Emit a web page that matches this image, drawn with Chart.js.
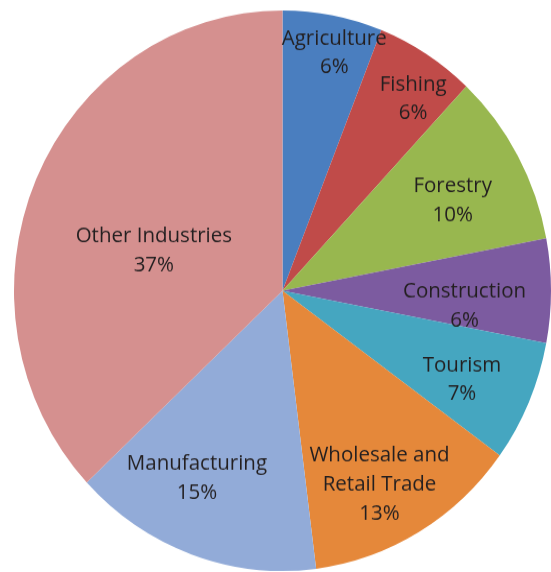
<!DOCTYPE html>
<html>
<head>
<meta charset="utf-8">
<title>Industries</title>
<script src="https://cdn.jsdelivr.net/npm/chart.js@4.4.1/dist/chart.umd.min.js"></script>
<style>
  html, body { margin: 0; padding: 0; background: #fff; }
  #chart { display: block; }
</style>
</head>
<body>
<canvas id="chart" width="551" height="548" style="width:551px;height:572px"></canvas>
<script>
// sectors, clockwise from 12 o'clock
const sectors = ['Agriculture', 'Fishing', 'Forestry', 'Construction', 'Tourism', 'Wholesale and Retail Trade', 'Manufacturing', 'Other Industries'];
const shares = [6, 6, 10, 6, 7, 13, 15, 37];
const colors = ['#4a7ebf', '#c04b49', '#98b74f', '#7c5ba0', '#45a6c0', '#e5883a', '#92abd8', '#d5908f'];

// label text lines per slice (Excel style wrapping)
const labelLines = [
  ['Agriculture'], ['Fishing'], ['Forestry'], ['Construction'], ['Tourism'],
  ['Wholesale and', 'Retail Trade'], ['Manufacturing'], ['Other Industries']
];
// where the label sits: fraction of radius, and a small angle nudge in degrees
const labelRadius = [0.87, 0.84, 0.71, 0.68, 0.74, 0.78, 0.74, 0.50];
const labelNudge = [2, 3, 2, 4.5, 2, 3, 5.7, -6.8];

// canvas is drawn a bit squashed then stretched by css to 572px
const pieLabels = {
  id: 'pieLabels',
  afterDatasetsDraw(chart) {
    const ctx = chart.ctx;
    const meta = chart.getDatasetMeta(0);
    ctx.save();
    ctx.font = '20.5px "Open Sans", sans-serif';
    ctx.fillStyle = '#231f20';
    ctx.textAlign = 'center';
    ctx.textBaseline = 'middle';
    meta.data.forEach((arc, i) => {
      const mid = (arc.startAngle + arc.endAngle) / 2 + labelNudge[i] * Math.PI / 180;
      const r = arc.outerRadius * labelRadius[i];
      const x = arc.x + Math.cos(mid) * r;
      const y = arc.y + Math.sin(mid) * r;
      const lines = labelLines[i].concat([shares[i] + '%']);
      const lh = 27.8;
      const top = y - (lines.length - 1) * lh / 2;
      lines.forEach((t, k) => ctx.fillText(t, x, top + k * lh));
    });
    ctx.restore();
  }
};

const canvas = document.getElementById('chart');
new Chart(canvas, {
  type: 'pie',
  data: {
    labels: sectors,
    datasets: [{
      data: shares,
      backgroundColor: colors,
      borderWidth: 0
    }]
  },
  options: {
    responsive: false,
    animation: false,
    layout: { padding: { left: 14, right: 0, top: 10, bottom: 1 } },
    plugins: {
      legend: { display: false },
      tooltip: { enabled: false }
    }
  },
  plugins: [pieLabels]
});
</script>
</body>
</html>
